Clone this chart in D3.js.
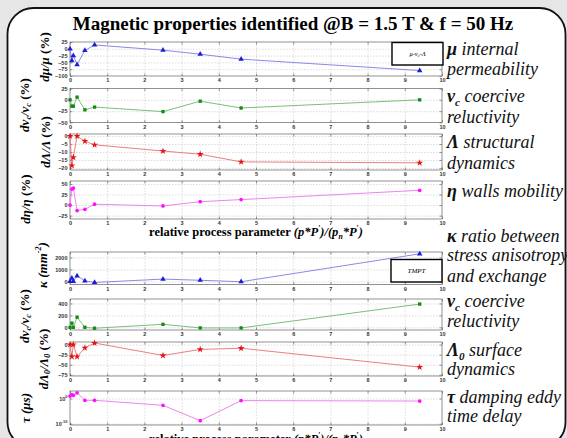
<!DOCTYPE html>
<html>
<head>
<meta charset="utf-8">
<script src="https://cdn.jsdelivr.net/npm/d3@7"></script>
<style>
html, body { margin: 0; padding: 0; background: #e6e6e6; }
svg { display: block; }
</style>
</head>
<body>
<svg id="chart" width="567" height="438"></svg>
<script>
// relative process parameter, shared by all panels
const xValues = [0, 0.05, 0.09, 0.19, 0.4, 0.66, 2.5, 3.5, 4.6, 9.4];

// mu-nu_c-Lambda model
const muValues     = [0, -44, -25, -58, -6, 14, -5, -20, -38, -80];
const nuValues     = [0, -14, -14, 6, -22, -16, -26, -3, -18, 0];
const lambdaValues = [0, -18.5, -13.3, 0, -3.2, -5.5, -9.4, -11.4, -16.2, -16.8];
const etaValues    = [0, 38, 40, -13, -10, 2, -2, 8, 13, 35];

// TMPT model
const kappaValues   = [0, 280, 0, 470, 50, -80, 200, 100, -20, 2300];
const nuTmptValues  = [0, 70, 0, 170, 0, -15, 50, -10, -10, 390];
const lambda0Values = [0, -30, 0, -30, -8, 4, -27, -12, -9, -56];
const tauValues     = [10, 40, 20, 200, 0.2, 0.2, 0.002, 1.5e-9, 0.15, 0.1];

const xTicks = d3.range(0, 11);
const muTicks = [-100, -75, -50, -25, 0, 25];
const nuTicks = [-50, -25, 0, 25];
const lambdaTicks = [-20, -15, -10, -5, 0];
const etaTicks = [-25, 0, 25, 50];
const kappaTicks = [0, 1000, 2000];
const nuTmptTicks = [0, 200, 400];
const lambda0Ticks = [-75, -50, -25, 0];
const tauTicks = [1e-10, 1];

const svg = d3.select("#chart");
const left = 70, right = 442;
const serif = "'Liberation Serif', 'DejaVu Serif', serif";
const sans = "'Liberation Sans', Arial, sans-serif";

const blue = {mk: "#1c1cd8", ln: "#7c7ce6"};
const green = {mk: "#138a13", ln: "#6ab86a"};
const red = {mk: "#e41414", ln: "#e87070"};
const magenta = {mk: "#ff10ff", ln: "#e878e8"};

// frame
svg.append("rect").attr("width", 567).attr("height", 438).attr("fill", "#e6e6e6");
svg.append("rect").attr("x", 7.5).attr("y", 8).attr("width", 558).attr("height", 440)
  .attr("rx", 26).attr("fill", "#fff").attr("stroke", "#111").attr("stroke-width", 1.8);

// rich text helper: parts are [text, flags] flags: b bold, s sub, p sup, i italic, n upright
function rich(sel, parts, size) {
  let off = 0;
  parts.forEach(([s, f = ""]) => {
    const target = f.includes("s") ? size * 0.22 : f.includes("p") ? -size * 0.4 : 0;
    const t = sel.append("tspan").text(s).attr("dy", target - off);
    if (f.includes("s") || f.includes("p")) t.attr("font-size", size * 0.62);
    if (f.includes("b")) t.attr("font-weight", "bold");
    if (f.includes("i")) t.attr("font-style", "italic");
    if (f.includes("n")) t.attr("font-style", "normal");
    off = target;
  });
}

svg.append("text").attr("x", 293).attr("y", 30).attr("text-anchor", "middle")
  .attr("font-family", serif).attr("font-weight", "bold").attr("font-size", 19)
  .text("Magnetic properties identified @B = 1.5 T & f = 50 Hz");

const panels = [
  {values: muValues, limits: [-100, 25], ticks: muTicks, top: 42, bottom: 76, c: blue, sym: d3.symbolTriangle, ss: 13,
   lab: [["dμ/μ "], ["(%)", "n"]], lx: 44, ly: 57},
  {values: nuValues, limits: [-50, 25], ticks: nuTicks, top: 88.5, bottom: 122.5, c: green, sym: d3.symbolSquare, ss: 11,
   lab: [["dν"], ["c", "s"], ["/ν"], ["c", "s"], [" (%)", "n"]], lx: 24, ly: 105},
  {values: lambdaValues, limits: [-21.3, 1.3], ticks: lambdaTicks, top: 134, bottom: 170, c: red, sym: d3.symbolStar, ss: 15,
   lab: [["dΛ/Λ "], ["(%)", "n"]], lx: 45, ly: 142},
  {values: etaValues, limits: [-33, 57], ticks: etaTicks, top: 181, bottom: 219, c: magenta, sym: d3.symbolCircle, ss: 11,
   lab: [["dη/η "], ["(%)", "n"]], lx: 25, ly: 199},
  {values: kappaValues, limits: [-250, 2450], ticks: kappaTicks, top: 252, bottom: 284.5, c: blue, sym: d3.symbolTriangle, ss: 13,
   lab: [["κ (mm"], ["-2", "p"], [")"]], lx: 42, ly: 265},
  {values: nuTmptValues, limits: [-45, 475], ticks: nuTmptTicks, top: 299, bottom: 330, c: green, sym: d3.symbolSquare, ss: 11,
   lab: [["dν"], ["c", "s"], ["/ν"], ["c", "s"], [" (%)", "n"]], lx: 24, ly: 316},
  {values: lambda0Values, limits: [-78, 6.5], ticks: lambda0Ticks, top: 342, bottom: 376, c: red, sym: d3.symbolStar, ss: 15,
   lab: [["dΛ"], ["0", "s"], ["/Λ"], ["0", "s"], [" (%)", "n"]], lx: 43, ly: 359},
  {values: tauValues, limits: [3e-11, 1e3], ticks: tauTicks, log: true, top: 391, bottom: 425, c: magenta, sym: d3.symbolCircle, ss: 11,
   lab: [["τ (μs)"]], lx: 25, ly: 408}
];

const x = d3.scaleLinear().domain([0, 10]).range([left, right]);

panels.forEach(p => {
  const g = svg.append("g");
  const y = (p.log ? d3.scaleLog() : d3.scaleLinear()).domain(p.limits).range([p.bottom, p.top]);
  const h = p.bottom - p.top;

  // dashed grid
  g.append("g").attr("transform", `translate(0,${p.bottom})`)
    .call(d3.axisBottom(x).tickValues(xTicks.slice(1, -1)).tickSize(-h).tickFormat(""))
    .call(a => a.select(".domain").remove())
    .selectAll("line").attr("stroke", "#c4c4c4").attr("stroke-width", 0.6).attr("stroke-dasharray", "1.5,1.5");
  g.append("g").attr("transform", `translate(${left},0)`)
    .call(d3.axisLeft(y).tickValues(p.ticks.filter(t => y(t) > p.top + 1 && y(t) < p.bottom - 1)).tickSize(-(right - left)).tickFormat(""))
    .call(a => a.select(".domain").remove())
    .selectAll("line").attr("stroke", "#c4c4c4").attr("stroke-width", 0.6).attr("stroke-dasharray", "1.5,1.5");

  g.append("rect").attr("x", left).attr("y", p.top).attr("width", right - left).attr("height", h)
    .attr("fill", "none").attr("stroke", "#777").attr("stroke-width", 0.8);

  const style = a => {
    a.select(".domain").remove();
    a.selectAll("line").attr("stroke", "#555").attr("stroke-width", 0.6);
    a.selectAll("text").attr("font-family", sans).attr("font-weight", "bold").attr("font-size", 5.5).attr("fill", "#333");
  };
  g.append("g").attr("transform", `translate(0,${p.bottom})`)
    .call(d3.axisBottom(x).tickValues(xTicks).tickSizeInner(-2.5).tickSizeOuter(0).tickPadding(2.5)).call(style);
  g.append("g").attr("transform", `translate(0,${p.top})`)
    .call(d3.axisTop(x).tickValues(xTicks).tickSizeInner(-2.5).tickSizeOuter(0).tickFormat("")).call(style);
  const yl = g.append("g").attr("transform", `translate(${left},0)`)
    .call(d3.axisLeft(y).tickValues(p.ticks).tickSizeInner(-2.5).tickSizeOuter(0).tickPadding(2.5)
      .tickFormat(p.log ? d3.format("") : d3.format("d"))).call(style);
  if (p.log) {
    yl.selectAll(".tick text").each(function(d) {
      const t = d3.select(this).text("10");
      t.append("tspan").attr("dy", -2.5).attr("font-size", 4).text(Math.round(Math.log10(d)));
    });
  }
  g.append("g").attr("transform", `translate(${right},0)`)
    .call(d3.axisRight(y).tickValues(p.ticks).tickSizeInner(-2.5).tickSizeOuter(0).tickFormat("")).call(style);

  // series
  const line = d3.line().x((d, i) => x(xValues[i])).y(d => y(d));
  g.append("path").datum(p.values).attr("d", line).attr("fill", "none")
    .attr("stroke", p.c.ln).attr("stroke-width", 0.9);
  g.selectAll(".mk").data(p.values).join("path")
    .attr("transform", (d, i) => `translate(${x(xValues[i])},${y(d)})`)
    .attr("d", d3.symbol().type(p.sym).size(p.ss)).attr("fill", p.c.mk);

  // y label
  const t = svg.append("text").attr("transform", `translate(${p.lx + 4.5},${p.ly}) rotate(-90)`)
    .attr("text-anchor", "middle").attr("font-family", serif).attr("font-weight", "bold")
    .attr("font-style", "italic").attr("font-size", 13);
  rich(t, p.lab, 13);
});

// legend boxes
function legendBox(x0, y0, parts, size) {
  svg.append("rect").attr("x", x0).attr("y", y0).attr("width", 51).attr("height", 22.5)
    .attr("fill", "#fff").attr("stroke", "#000").attr("stroke-width", 1.4);
  const t = svg.append("text").attr("x", x0 + 25.5).attr("y", y0 + 13.5).attr("text-anchor", "middle")
    .attr("font-family", serif).attr("font-style", "italic").attr("font-size", size);
  rich(t, parts, size);
}
legendBox(392, 42.5, [["μ-ν"], ["c", "s"], ["-Λ"]], 6.5);
legendBox(391, 259.5, [["TMPT"]], 7);

// x-axis titles
function xTitle(yb) {
  const t = svg.append("text").attr("x", 256).attr("y", yb).attr("text-anchor", "middle")
    .attr("font-family", serif).attr("font-weight", "bold").attr("font-size", 12.5);
  rich(t, [["relative process parameter  "], ["(p*P", "i"], ["′", "ip"], [")/(p", "i"], ["n", "is"], ["*P", "i"], ["′", "ip"], [")", "i"]], 12.5);
}
xTitle(236);
xTitle(443);

// right-hand descriptions
const rightLabels = [
  [55, [["μ", "b"], [" internal"]]],
  [75, [["permeability"]]],
  [102, [["ν", "b"], ["c", "bs"], [" coercive"]]],
  [123, [["reluctivity"]]],
  [148, [["Λ", "b"], [" structural"]]],
  [169, [["dynamics"]]],
  [197, [["η", "b"], [" walls mobility"]]],
  [242, [["κ", "b"], [" ratio between"]]],
  [261, [["stress anisotropy"]]],
  [282, [["and exchange"]]],
  [307, [["ν", "b"], ["c", "bs"], [" coercive"]]],
  [327, [["reluctivity"]]],
  [356, [["Λ", "b"], ["0", "bs"], [" surface"]]],
  [375, [["dynamics"]]],
  [403, [["τ", "b"], [" damping eddy"]]],
  [422, [["time delay"]]]
];
rightLabels.forEach(([yb, parts]) => {
  const t = svg.append("text").attr("x", 447).attr("y", yb).attr("font-family", serif)
    .attr("font-style", "italic").attr("font-size", 18).attr("fill", "#111");
  rich(t, parts, 18);
});
</script>
</body>
</html>
